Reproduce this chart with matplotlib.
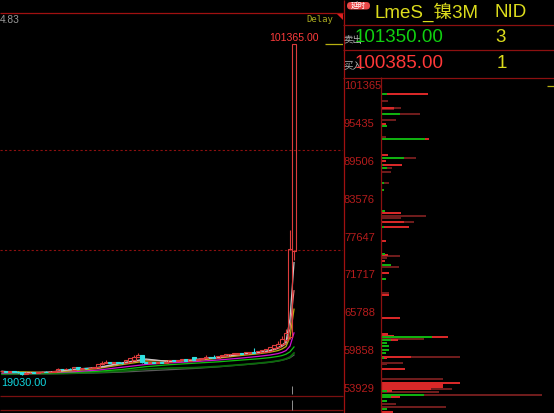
import matplotlib
matplotlib.use("Agg")
import matplotlib.pyplot as plt
from matplotlib.patches import Rectangle, FancyBboxPatch, Polygon

# daily candles, LME nickel 3M (last two: the March 2022 squeeze)
opens = [19900, 20000, 19850, 19950, 19800, 19700, 19300, 19500, 19600, 19550,
         19700, 19800, 19750, 19850, 19950, 20550, 20450, 20550, 20300, 21000,
         20600, 20700, 20650, 20800, 21000, 21700, 22000, 22250, 22000, 22150,
         22050, 21950, 22250, 22800, 23500, 24000, 22250, 22050, 22200, 22050,
         22250, 22050, 22300, 22700, 22600, 22750, 22950, 22550, 23500, 22800,
         23000, 23250, 23500, 23450, 23300, 23700, 23800, 24200, 24250, 24300,
         24450, 24300, 24500, 24750, 24550, 24800, 24750, 25000, 25750, 25900,
         26700, 27800, 28500, 49876]
closes = [20000, 19850, 19950, 19800, 19700, 19250, 19500, 19600, 19550, 19700,
          19800, 19750, 19850, 19950, 20550, 20450, 20550, 20500, 21000, 20600,
          20700, 20650, 20800, 21000, 21750, 22000, 22250, 22000, 22150, 22050,
          21950, 22750, 23250, 23500, 24000, 22250, 22050, 22200, 22050, 22250,
          22050, 22300, 22700, 22600, 22750, 22950, 22550, 23000, 22800, 23000,
          23250, 23500, 23450, 23300, 23700, 23950, 24200, 24250, 24450, 24450,
          24300, 24700, 24750, 24550, 24950, 25250, 25500, 26000, 26500, 26800,
          28000, 29500, 50370, 101365]
highs = [20100, 20050, 20050, 20000, 19900, 19750, 19650, 19700, 19700, 19800,
         19900, 19900, 19950, 20050, 20650, 20600, 20650, 20650, 21100, 21050,
         20800, 20800, 20900, 21100, 21850, 22500, 22750, 22300, 22300, 22250,
         22150, 22850, 23350, 24000, 24500, 24100, 22350, 22300, 22300, 22350,
         22350, 22400, 22800, 22800, 22850, 23050, 23000, 23100, 23600, 23100,
         23350, 24000, 23600, 24000, 23800, 24050, 24300, 24350, 24550, 24550,
         24550, 24800, 24850, 25700, 25050, 25350, 25600, 26100, 26600, 27400,
         28700, 30500, 55096, 101365]
lows = [19800, 19750, 19800, 19700, 19600, 19030, 19250, 19400, 19450, 19500,
        19650, 19700, 19700, 19800, 19900, 20350, 20400, 20400, 20250, 20500,
        20550, 20550, 20600, 20750, 20950, 21600, 21950, 21900, 21950, 21950,
        21850, 21900, 22200, 22700, 23400, 22100, 21950, 21950, 21950, 22000,
        21950, 22000, 22250, 22500, 22550, 22700, 22450, 22500, 22700, 22750,
        22950, 23200, 23350, 23250, 23250, 23650, 23700, 24100, 24150, 24200,
        24200, 24250, 24450, 24450, 24500, 24700, 24700, 24900, 25600, 25800,
        26600, 27600, 28000, 47632]

# moving averages, read at a few candles
ma_idx = [0, 6, 12, 18, 24, 30, 36, 42, 48, 54, 60, 64, 67, 69, 70, 71, 72, 73]
ma_grey = [19950, 19500, 19750, 20450, 20900, 22050, 23000, 22350, 22850, 23450,
           24250, 24600, 25150, 25800, 26400, 27300, 33000, 47000]
ma_pink = [19900, 19550, 19700, 20350, 20800, 21900, 22800, 22450, 22750, 23350,
           24150, 24500, 25000, 25600, 26100, 26800, 30500, 40000]
ma_olive = [19850, 19800, 19650, 20100, 20650, 21600, 22500, 22600, 22600, 23200,
            23900, 24300, 24700, 25100, 25500, 26100, 28500, 35400]
ma_magenta = [19500, 19650, 19650, 19850, 20250, 20950, 21650, 22050, 22350, 22750,
              23250, 23650, 24000, 24350, 24650, 25100, 26200, 29500]
ma_green = [19350, 19450, 19550, 19700, 19950, 20400, 21100, 21600, 21950, 22300,
            22750, 23050, 23350, 23650, 23850, 24200, 24800, 26000]
ma_dkgreen = [19300, 19350, 19400, 19500, 19700, 20000, 20500, 20750, 20850, 21150,
              21600, 21950, 22250, 22550, 22750, 23050, 23500, 24500]
ma_dkgrey = [19150, 19200, 19300, 19400, 19550, 19750, 20050, 20350, 20650, 21050,
             21550, 21900, 22200, 22500, 22700, 22950, 23300, 24000]

# volume profile: price level, total, buy part, sell part (rest = other)
prof_price = [100066, 99017, 97969, 97765, 97030, 96091, 95371, 95058, 93431, 93071,
              90520, 90097, 89581, 89002, 88579, 87953, 86231, 85089, 81803, 81490,
              81020, 80754, 80081, 79252, 77108, 75073, 74916, 74760, 74447, 74024,
              73352, 73085, 72052, 71113, 69016, 68656, 65009, 62553, 62287, 62036,
              61817, 61614, 61191, 60675, 60049, 59532, 59000, 58750, 58061, 57811,
              57075, 55463, 54931, 54618, 54305, 53992, 53679, 53429, 53007, 52741,
              52115, 51552, 51082, 50816, 50347]
prof_vol = [47, 7, 20, 13, 39, 15, 5, 6, 5, 48,
            7, 35, 5, 21, 11, 10, 8, 3, 4, 20,
            45, 20, 33, 28, 5, 4, 7, 19, 6, 4,
            10, 18, 8, 5, 8, 8, 19, 7, 13, 67,
            43, 17, 6, 8, 8, 5, 79, 6, 22, 6,
            24, 62, 79, 62, 62, 71, 11, 58, 161, 19,
            6, 15, 65, 6, 12]
prof_buy = [6, 0, 0, 0, 19, 0, 0, 6, 0, 44,
            0, 23, 0, 2, 6, 0, 3, 3, 4, 0,
            0, 0, 0, 3, 0, 4, 0, 0, 0, 0,
            10, 0, 0, 5, 0, 0, 0, 0, 0, 51,
            0, 10, 6, 8, 8, 5, 0, 3, 0, 0,
            0, 0, 0, 0, 0, 0, 6, 0, 43, 10,
            6, 0, 0, 6, 0]
prof_sell = [41, 0, 13, 0, 0, 0, 5, 0, 0, 4,
             7, 0, 5, 19, 0, 0, 0, 0, 0, 20,
             0, 0, 23, 25, 5, 0, 7, 0, 0, 4,
             0, 0, 8, 0, 0, 8, 19, 7, 13, 16,
             0, 7, 0, 0, 0, 0, 30, 3, 0, 0,
             24, 0, 79, 62, 62, 50, 5, 0, 0, 9,
             0, 0, 0, 0, 12]

axis_prices = [101365, 95435, 89506, 83576, 77647, 71717, 65788, 59858, 53929]
grid_prices = [75000, 50000]
high_price = 101365.00
low_price = 19030.00
ask_price, ask_qty = 101350.00, 3
bid_price, bid_qty = 100385.00, 1
prev_change = "4.83"

plt.rcParams["font.family"] = ["Liberation Sans", "Noto Sans CJK SC", "DejaVu Sans"]

W, H = 554, 413
fig = plt.figure(figsize=(W / 100, H / 100), dpi=100, facecolor="black")


def px_axes(x0, y0, x1, y1):
    ax = fig.add_axes([x0 / W, 1 - y1 / H, (x1 - x0) / W, (y1 - y0) / H])
    ax.set_facecolor("black")
    ax.set_axis_off()
    return ax


LINE = "#8c1010"
UP = "#dc3c3c"
DOWN = "#30e0e0"

# main candle chart
ax = px_axes(0, 12, 343, 395)
ax.set_xlim(-0.5, 85.25)
ax.set_ylim(14049, 109325)

for p in grid_prices:
    ax.axhline(p, color=LINE, lw=0.8, ls=(0, (2, 2)), zorder=1)

for vals, col, lw in [(ma_dkgrey, "#5a5a5a", 0.9), (ma_dkgreen, "#0a6a0a", 1.3),
                      (ma_green, "#10c010", 0.9), (ma_magenta, "#d010d0", 0.9),
                      (ma_olive, "#b8b010", 0.9), (ma_pink, "#f08080", 0.8),
                      (ma_grey, "#c8c8c8", 0.9)]:
    ax.plot(ma_idx, vals, color=col, lw=lw, zorder=2)

for i, (o, h, l, c) in enumerate(zip(opens, highs, lows, closes)):
    up = c >= o
    col = UP if up else DOWN
    lo_b, hi_b = min(o, c), max(o, c)
    body = max(hi_b - lo_b, 120)
    ax.add_patch(Rectangle((i - 0.42, lo_b), 0.84, body,
                           facecolor="none" if up else col, edgecolor=col,
                           lw=0.8, zorder=3))
    if h > hi_b:
        ax.vlines(i, hi_b, h, color=col, lw=0.8, zorder=3)
    if l < lo_b:
        ax.vlines(i, l, lo_b, color=col, lw=0.8, zorder=3)

ax.hlines(high_price, 80.75, 85.25, color="#b8b010", lw=0.9)
ax.text(79.25, high_price + 300, f"{high_price:.2f}", color="#ff3c3c", fontsize=7.6,
        ha="right", va="bottom")
ax.text(-0.3, low_price - 700, f"{low_price:.2f}", color="#10d8e0", fontsize=7.8,
        ha="left", va="top")

# volume profile
axp = px_axes(381, 77, 554, 413)
axp.set_xlim(0, 173)
axp.set_ylim(50172, 102774)
hgt = 290
axp.barh(prof_price, prof_vol, height=hgt, color="#6e1c1c", lw=0)
axp.barh(prof_price, prof_sell, left=prof_buy, height=hgt, color="#d82828", lw=0)
axp.barh(prof_price, prof_buy, height=hgt, color="#10b010", lw=0)
axp.hlines(high_price, 166, 173, color="#b8b010", lw=0.9)
for p in axis_prices:
    axp.text(-37, p, f"{p}", color="#b41c1c", fontsize=8, ha="left", va="center",
             clip_on=False)

# frame, header and labels in pixel space
ov = fig.add_axes([0, 0, 1, 1])
ov.set_xlim(0, W)
ov.set_ylim(H, 0)
ov.set_axis_off()
ov.patch.set_alpha(0)

ov.hlines(12.5, 0, 343, color="#a01010", lw=0.9)
ov.vlines(343.5, 0, H, color="#a01010", lw=0.9)
ov.hlines([24.5, 49.5, 77.5], 343, W, color=LINE, lw=0.9)
ov.vlines(381, 77, H, color=LINE, lw=0.9)
ov.hlines([395.5, 409.5], 0, 343, color="#7a1010", lw=0.9)
ov.vlines(291.5, 386, 394, color="#909090", lw=0.7)
ov.vlines(291.5, 400, 410, color="#909090", lw=0.7)
ov.add_patch(Polygon([(336, 12.5), (343, 12.5), (343, 19.5)], closed=True,
                     color="#e02020", lw=0))

ov.text(0, 20, prev_change, color="#9a9a9a", fontsize=7.3, va="center", ha="left")
ov.text(333, 20, "Delay", color="#a8a820", fontsize=6.5, va="center", ha="right",
        family="DejaVu Sans Mono")

ov.add_patch(FancyBboxPatch((347, 2), 23, 7.5, boxstyle="round,pad=0,rounding_size=3.7",
                            color="#e84848", lw=0))
ov.text(358.5, 6, "延时", color="white", fontsize=5.5, ha="center", va="center",
        family=["Noto Sans CJK SC"])

YEL = "#dcdc1c"
ov.text(375, 12.5, "LmeS_镍3M", color=YEL, fontsize=13.5, ha="left", va="center")
ov.text(495, 12.5, "NID", color=YEL, fontsize=13.5, ha="left", va="center")

ov.text(343, 40, "卖出", color="#b4b4b4", fontsize=6.8, ha="left", va="center",
        family=["Noto Sans CJK SC"])
ov.text(355, 37, f"{ask_price:.2f}", color="#10d010", fontsize=13.5, ha="left",
        va="center")
ov.text(495, 37, f"{ask_qty}", color=YEL, fontsize=13.5, ha="left", va="center")

ov.text(343, 66, "买入", color="#b4b4b4", fontsize=6.8, ha="left", va="center",
        family=["Noto Sans CJK SC"])
ov.text(355, 63, f"{bid_price:.2f}", color="#ff3838", fontsize=13.5, ha="left",
        va="center")
ov.text(497, 63, f"{bid_qty}", color=YEL, fontsize=13.5, ha="left", va="center")

fig.savefig("out.png", dpi=100, facecolor="black")
